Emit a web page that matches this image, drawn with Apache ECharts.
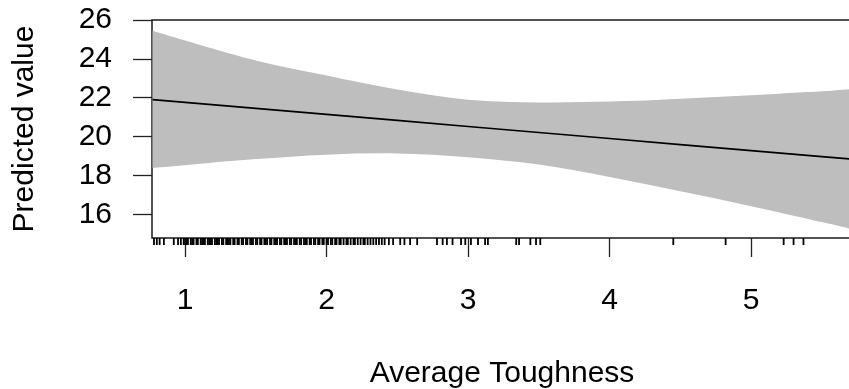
<!DOCTYPE html>
<html>
<head>
<meta charset="utf-8">
<script src="https://cdn.jsdelivr.net/npm/echarts@6/dist/echarts.min.js"></script>
<style>
  html, body { margin: 0; padding: 0; background: #ffffff; }
  #chart { width: 849px; height: 389px; }
</style>
</head>
<body>
<div id="chart"></div>
<script>
// Effect of average toughness on the predicted value, with confidence band and rug of observations
const toughness = [0.77, 1.0, 1.5, 2.0, 2.5, 3.0, 3.5, 4.0, 4.5, 5.0, 5.5, 5.7];
const fitValue  = [21.90, 21.76, 21.45, 21.14, 20.83, 20.52, 20.21, 19.90, 19.59, 19.28, 18.97, 18.85];
const upperCI   = [25.45, 24.95, 23.92, 23.14, 22.42, 21.90, 21.76, 21.80, 21.95, 22.13, 22.33, 22.44];
const lowerCI   = [18.39, 18.53, 18.84, 19.07, 19.13, 18.94, 18.56, 17.92, 17.18, 16.42, 15.60, 15.26];

const rugToughness = [
  0.78, 0.80, 0.82, 0.85, 0.92, 0.95,
  0.97, 0.99, 1.00, 1.01, 1.02, 1.04, 1.05, 1.06, 1.08, 1.09, 1.11, 1.12, 1.13,
  1.14, 1.16, 1.17, 1.18, 1.19, 1.21, 1.22, 1.23, 1.24, 1.26, 1.27, 1.29, 1.30,
  1.31, 1.32, 1.34, 1.35, 1.37, 1.38, 1.40, 1.41, 1.43, 1.44, 1.46, 1.47, 1.48,
  1.50, 1.51, 1.53, 1.54, 1.56, 1.57, 1.58, 1.60, 1.61, 1.63, 1.64, 1.65, 1.67,
  1.68, 1.70, 1.71, 1.72, 1.74, 1.75, 1.77, 1.78, 1.79, 1.81, 1.82, 1.84, 1.85,
  1.86, 1.88, 1.89, 1.91, 1.92, 1.94, 1.95, 1.97, 1.98, 2.00, 2.01, 2.03, 2.04,
  2.06, 2.07, 2.09, 2.10, 2.12, 2.14, 2.15, 2.17, 2.19, 2.20, 2.22, 2.24, 2.26,
  2.27, 2.29, 2.31, 2.33, 2.35, 2.37, 2.39, 2.41, 2.44, 2.47,
  2.52, 2.55, 2.59, 2.64, 2.78, 2.82, 2.85, 2.89, 2.95, 2.98, 3.02, 3.07, 3.12,
  3.14, 3.34, 3.36, 3.44, 3.48, 3.51, 4.45, 4.82, 5.23, 5.30, 5.37
];

const xTicks = [1, 2, 3, 4, 5];
const yTicks = [16, 18, 20, 22, 24, 26];

const xMin = 0.766, xMax = 5.713;
const yMin = 14.78, yMax = 26;

const font = 'Liberation Sans, Arial, Helvetica, sans-serif';

// Smooth path through screen points (Catmull-Rom converted to cubic Bezier)
function splinePath(pts, moveFirst) {
  let d = (moveFirst ? 'M' : 'L') + pts[0][0] + ' ' + pts[0][1];
  for (let i = 0; i < pts.length - 1; i++) {
    const p0 = pts[Math.max(i - 1, 0)];
    const p1 = pts[i];
    const p2 = pts[i + 1];
    const p3 = pts[Math.min(i + 2, pts.length - 1)];
    const c1x = p1[0] + (p2[0] - p0[0]) / 6, c1y = p1[1] + (p2[1] - p0[1]) / 6;
    const c2x = p2[0] - (p3[0] - p1[0]) / 6, c2y = p2[1] - (p3[1] - p1[1]) / 6;
    d += 'C' + c1x + ' ' + c1y + ' ' + c2x + ' ' + c2y + ' ' + p2[0] + ' ' + p2[1];
  }
  return d;
}

const chart = echarts.init(document.getElementById('chart'), null, { renderer: 'canvas' });

chart.setOption({
  animation: false,
  backgroundColor: '#ffffff',
  grid: {
    left: 152, top: 20, right: -3, bottom: 151,
    outerBoundsMode: 'none', containLabel: false,
    show: true, borderColor: '#1a1a1a', borderWidth: 1.5, backgroundColor: '#ffffff'
  },
  xAxis: {
    type: 'value', min: xMin, max: xMax,
    name: 'Average Toughness', nameLocation: 'middle', nameGap: 121,
    nameTextStyle: { fontFamily: font, fontSize: 30, color: '#000' },
    axisLine: { show: false },
    axisTick: { show: true, inside: false, length: 19, customValues: xTicks,
                lineStyle: { color: '#222', width: 1.3 } },
    axisLabel: { customValues: xTicks, margin: 48, fontFamily: font, fontSize: 30, color: '#000' },
    splitLine: { show: false }
  },
  yAxis: {
    type: 'value', min: yMin, max: yMax,
    name: 'Predicted value', nameLocation: 'middle', nameGap: 112,
    nameTextStyle: { fontFamily: font, fontSize: 30, color: '#000' },
    axisLine: { show: false },
    axisTick: { show: true, inside: false, length: 19, customValues: yTicks,
                lineStyle: { color: '#222', width: 1.3 } },
    axisLabel: { customValues: yTicks, margin: 40, fontFamily: font, fontSize: 30, color: '#000' },
    splitLine: { show: false }
  },
  series: [
    {
      name: 'band', type: 'custom', silent: true, z: 1,
      data: [[toughness[0]]],
      encode: { x: 0 },
      renderItem: (params, api) => {
        const up = toughness.map((x, i) => api.coord([x, upperCI[i]]));
        const lo = toughness.map((x, i) => api.coord([x, lowerCI[i]])).reverse();
        const d = splinePath(up, true) + splinePath(lo, false) + 'Z';
        return {
          type: 'path',
          shape: { pathData: d },
          style: { fill: '#bebebe', stroke: null }
        };
      }
    },
    {
      name: 'fit', type: 'line', symbol: 'none', silent: true,
      data: toughness.map((x, i) => [x, fitValue[i]]),
      lineStyle: { color: '#000', width: 1.7 }, z: 3
    },
    {
      name: 'rug', type: 'custom', clip: false, silent: true, z: 4,
      data: rugToughness.map(v => [v]),
      encode: { x: 0 },
      renderItem: (params, api) => {
        const p = api.coord([api.value(0), yMin]);
        return {
          type: 'line',
          shape: { x1: p[0], y1: p[1], x2: p[0], y2: p[1] + 7 },
          style: { stroke: '#000', lineWidth: 1.8 }
        };
      }
    }
  ]
});
</script>
</body>
</html>
